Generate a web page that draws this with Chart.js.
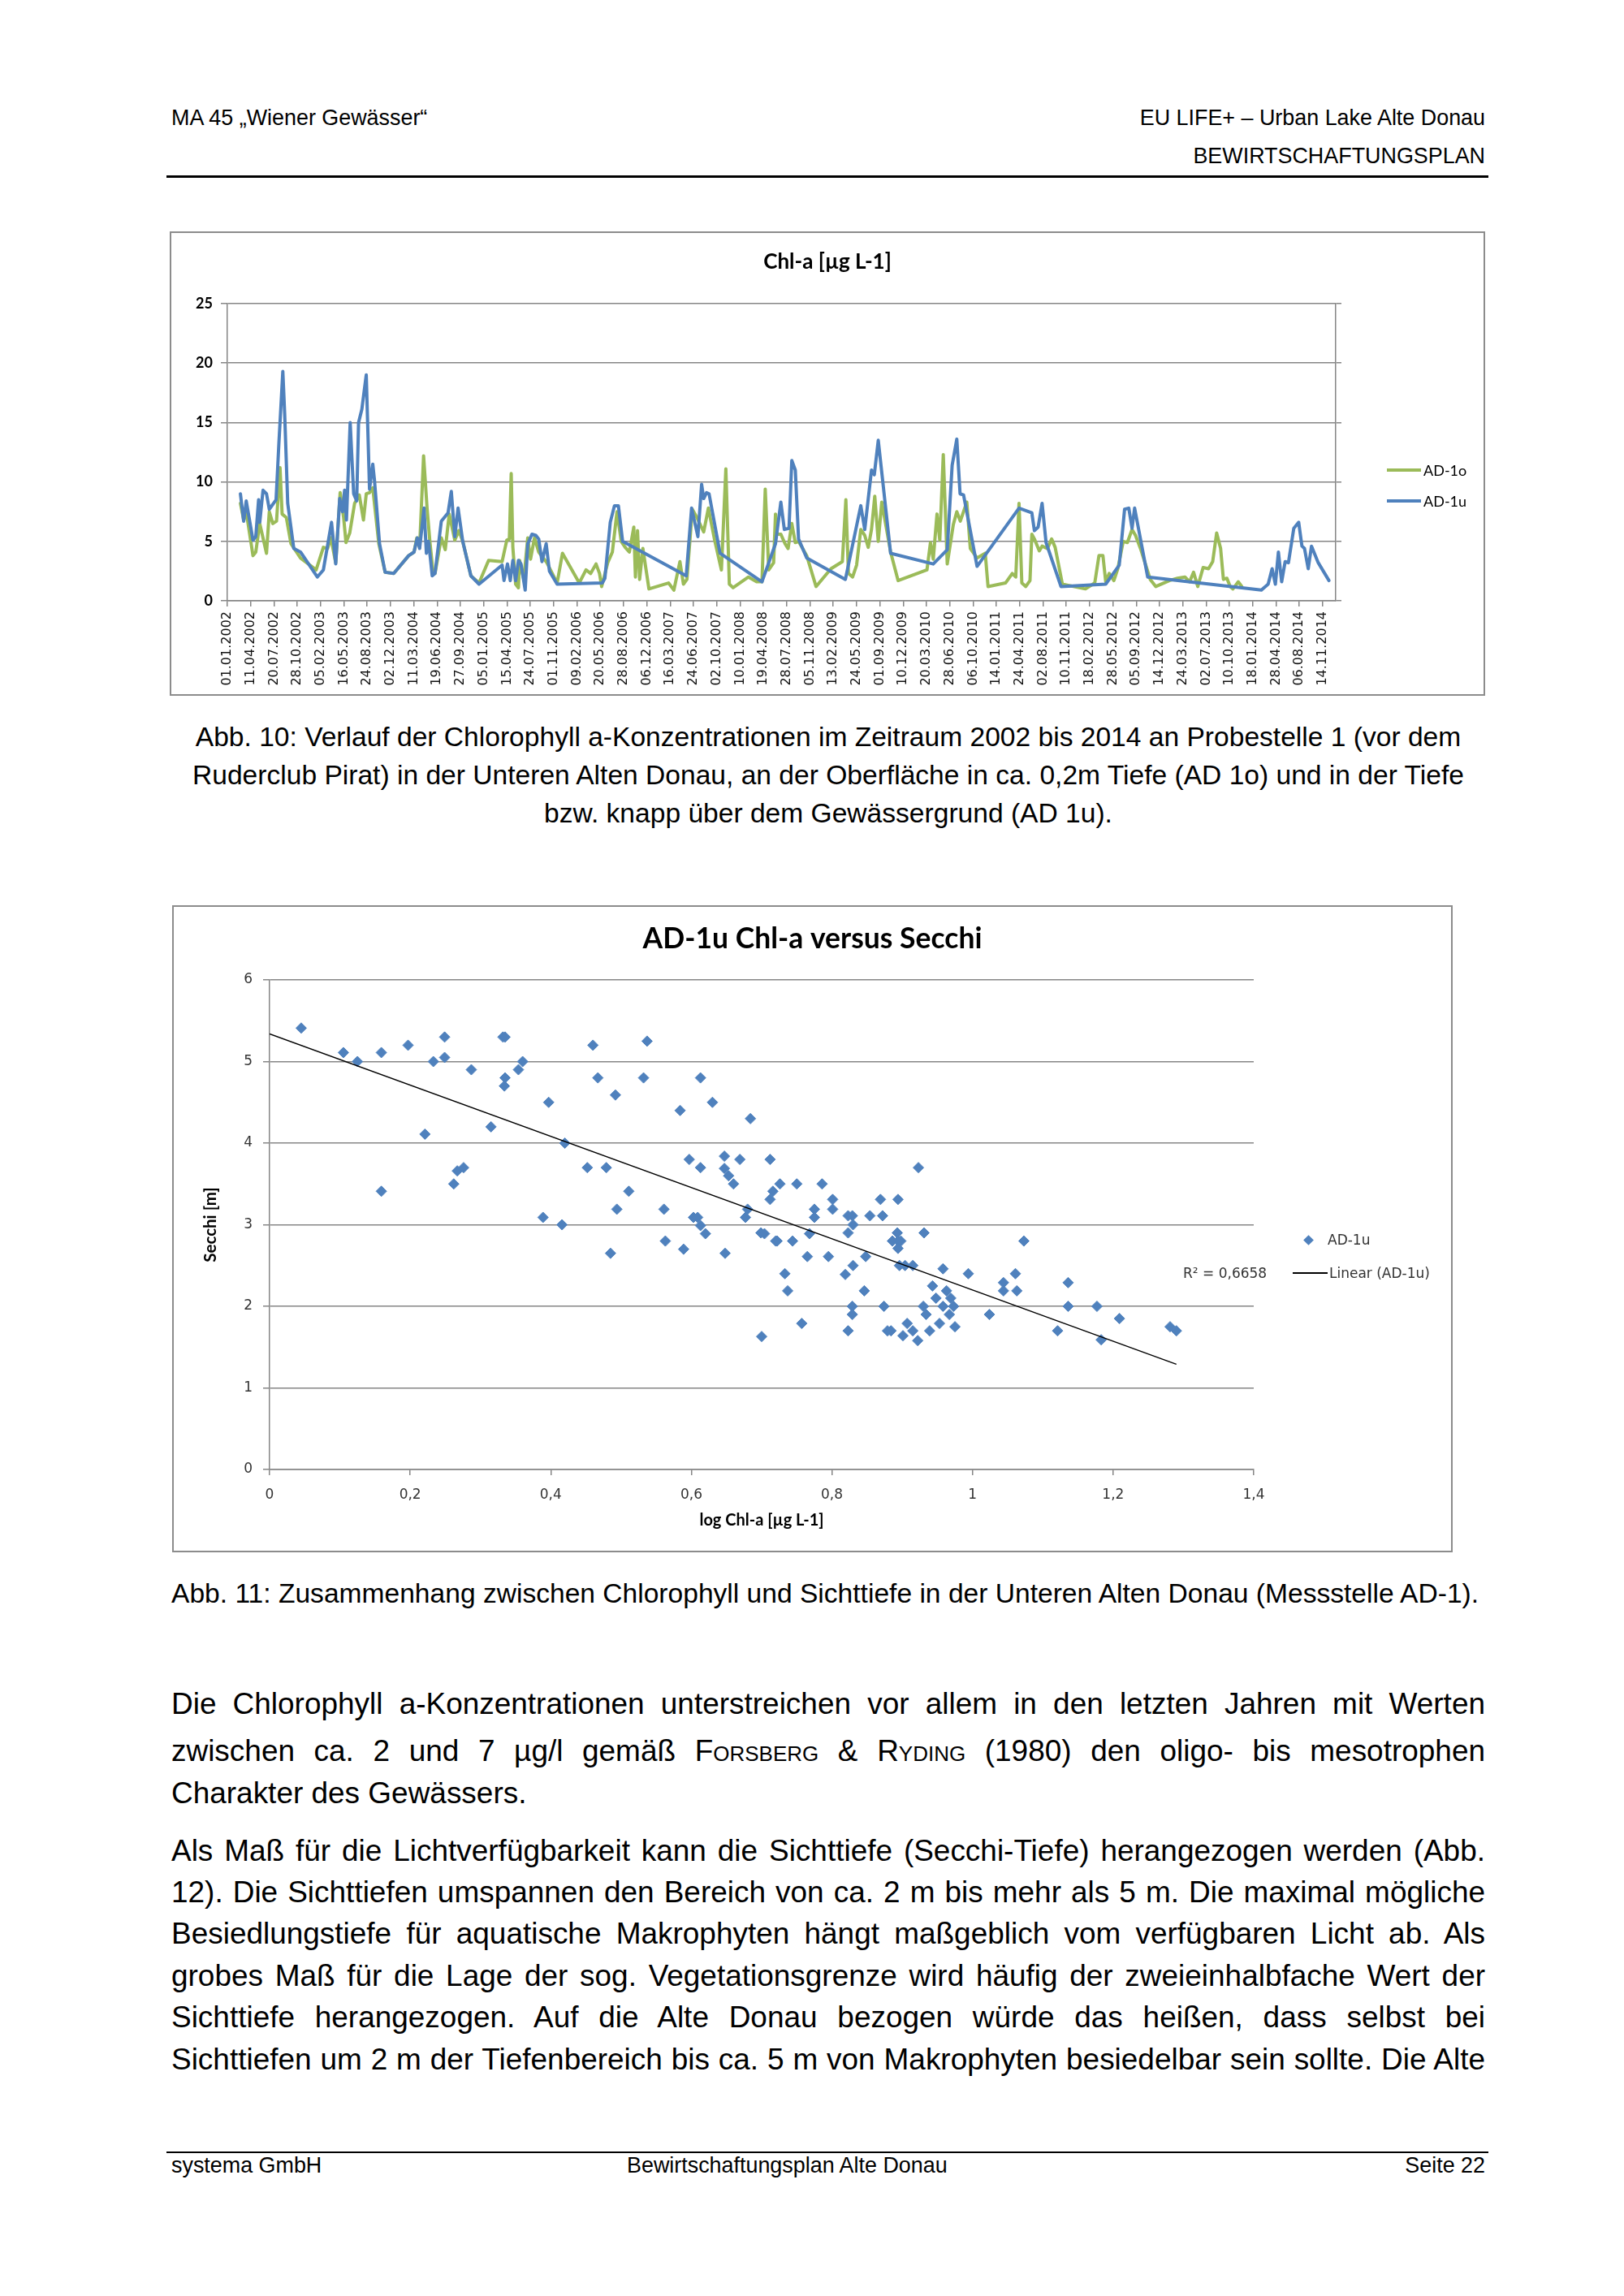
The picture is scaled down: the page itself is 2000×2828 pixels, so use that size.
<!DOCTYPE html>
<html><head><meta charset="utf-8">
<script src="https://cdn.jsdelivr.net/npm/chart.js@4.4.1/dist/chart.umd.min.js"></script>
<style>
html,body{margin:0;padding:0;background:#fff;}
body{width:2000px;height:2828px;position:relative;overflow:hidden;font-family:"Liberation Sans",Arial,sans-serif;color:#000;}
.t{position:absolute;white-space:nowrap;line-height:1;}
.h{font-size:26.9px;}
.cap{font-size:33.6px;}
.b{font-size:36.96px;}
.j{display:inline-block;}
.box{position:absolute;box-sizing:border-box;border:2px solid #8c8c8c;background:#fff;}
.box canvas{display:block;}
.lg{position:absolute;white-space:nowrap;line-height:1;}
</style></head><body>

<div class="t h" style="left:211px;top:132px;">MA 45 „Wiener Gewässer“</div>
<div class="t h" style="right:171px;top:132px;">EU LIFE+ – Urban Lake Alte Donau</div>
<div class="t h" style="right:171px;top:178.5px;">BEWIRTSCHAFTUNGSPLAN</div>
<div style="position:absolute;left:205px;top:216px;width:1628px;height:3px;background:#000;"></div>

<div class="box" style="left:209px;top:285px;width:1620px;height:572px;">
  <canvas id="c1" width="1616" height="568" style="width:1616px;height:568px;"></canvas>
</div>
<div style="position:absolute;left:1708px;top:577px;width:42px;height:4px;background:#9BBB59;"></div>
<div class="lg" style="left:1753px;top:569.5px;font-family:Lato;font-size:18px;">AD-1o</div>
<div style="position:absolute;left:1708px;top:615px;width:42px;height:4px;background:#4F81BD;"></div>
<div class="lg" style="left:1753px;top:607.5px;font-family:Lato;font-size:18px;">AD-1u</div>

<div class="t cap" style="left:211px;width:1618px;text-align:center;top:891px;">Abb. 10: Verlauf der Chlorophyll a-Konzentrationen im Zeitraum 2002 bis 2014 an Probestelle 1 (vor dem</div>
<div class="t cap" style="left:211px;width:1618px;text-align:center;top:938px;">Ruderclub Pirat) in der Unteren Alten Donau, an der Oberfläche in ca. 0,2m Tiefe (AD 1o) und in der Tiefe</div>
<div class="t cap" style="left:211px;width:1618px;text-align:center;top:985px;">bzw. knapp über dem Gewässergrund (AD 1u).</div>

<div class="box" style="left:212px;top:1115px;width:1577px;height:797px;">
  <canvas id="c2" width="1573" height="793" style="width:1573px;height:793px;"></canvas>
</div>
<div style="position:absolute;left:1606.5px;top:1522.5px;width:9px;height:9px;background:#4F81BD;transform:rotate(45deg);"></div>
<div class="lg" style="left:1635px;top:1519px;font-family:'DejaVu Sans';font-size:17px;color:#333;">AD-1u</div>
<div style="position:absolute;left:1592px;top:1567px;width:43px;height:2px;background:#000;"></div>
<div class="lg" style="left:1637px;top:1560px;font-family:'DejaVu Sans';font-size:17px;color:#333;">Linear (AD-1u)</div>
<div class="lg" id="r2" style="left:1457px;top:1560px;font-family:'DejaVu Sans';font-size:17px;color:#333;"></div>

<div class="t cap" style="left:211px;top:1946px;">Abb. 11: Zusammenhang zwischen Chlorophyll und Sichttiefe in der Unteren Alten Donau (Messstelle AD-1).</div>

<div class="t b j" style="left:211px;top:2080.5px;">Die Chlorophyll a-Konzentrationen unterstreichen vor allem in den letzten Jahren mit Werten</div>
<div class="t b j" style="left:211px;top:2138.5px;">zwischen ca. 2 und 7 µg/l gemäß <span style="font-variant:small-caps">Forsberg</span> &amp; <span style="font-variant:small-caps">Ryding</span> (1980) den oligo- bis mesotrophen</div>
<div class="t b" style="left:211px;top:2190.5px;">Charakter des Gewässers.</div>

<div class="t b j" style="left:211px;top:2261.5px;">Als Maß für die Lichtverfügbarkeit kann die Sichttiefe (Secchi-Tiefe) herangezogen werden (Abb.</div>
<div class="t b j" style="left:211px;top:2312.5px;">12). Die Sichttiefen umspannen den Bereich von ca. 2 m bis mehr als 5 m. Die maximal mögliche</div>
<div class="t b j" style="left:211px;top:2363.5px;">Besiedlungstiefe für aquatische Makrophyten hängt maßgeblich vom verfügbaren Licht ab. Als</div>
<div class="t b j" style="left:211px;top:2415.5px;">grobes Maß für die Lage der sog. Vegetationsgrenze wird häufig der zweieinhalbfache Wert der</div>
<div class="t b j" style="left:211px;top:2466.5px;">Sichttiefe herangezogen. Auf die Alte Donau bezogen würde das heißen, dass selbst bei</div>
<div class="t b j" style="left:211px;top:2518.5px;">Sichttiefen um 2 m der Tiefenbereich bis ca. 5 m von Makrophyten besiedelbar sein sollte. Die Alte</div>

<div style="position:absolute;left:205px;top:2650px;width:1628px;height:1.5px;background:#000;"></div>
<div class="t h" style="left:211px;top:2654px;">systema GmbH</div>
<div class="t h" style="left:772px;top:2654px;">Bewirtschaftungsplan Alte Donau</div>
<div class="t h" style="right:171px;top:2654px;">Seite 22</div>

<script>
// ---------- Chart 1 data: Chl-a [µg L-1], x = days since 01.01.2002 ----------
const dateLabels = ['01.01.2002','11.04.2002','20.07.2002','28.10.2002','05.02.2003','16.05.2003','24.08.2003','02.12.2003','11.03.2004','19.06.2004','27.09.2004','05.01.2005','15.04.2005','24.07.2005','01.11.2005','09.02.2006','20.05.2006','28.08.2006','06.12.2006','16.03.2007','24.06.2007','02.10.2007','10.01.2008','19.04.2008','28.07.2008','05.11.2008','13.02.2009','24.05.2009','01.09.2009','10.12.2009','20.03.2010','28.06.2010','06.10.2010','14.01.2011','24.04.2011','02.08.2011','10.11.2011','18.02.2012','28.05.2012','05.09.2012','14.12.2012','24.03.2013','02.07.2013','10.10.2013','18.01.2014','28.04.2014','06.08.2014','14.11.2014'];

const ad1oDays = [56,70,81,110,122,139,168,180,195,211,226,235,253,273,314,381,412,430,444,465,484,499,509,525,546,566,584,596,610,624,650,677,714,778,801,813,825,842,857,869,883,891,918,935,952,976,993,1010,1045,1080,1121,1179,1199,1210,1218,1225,1237,1249,1254,1272,1289,1301,1318,1336,1371,1415,1438,1510,1539,1559,1582,1597,1606,1632,1652,1672,1690,1707,1725,1744,1751,1760,1769,1783,1809,1893,1916,1942,1957,1972,1995,2015,2044,2064,2091,2120,2139,2154,2170,2236,2271,2294,2308,2323,2344,2352,2358,2375,2393,2406,2422,2437,2451,2486,2526,2590,2639,2654,2665,2683,2700,2718,2735,2750,2764,2778,2793,2808,2846,2878,3002,3017,3029,3045,3057,3072,3089,3115,3130,3145,3173,3188,3217,3252,3264,3339,3368,3383,3397,3409,3426,3444,3452,3463,3484,3496,3519,3537,3552,3583,3682,3722,3740,3757,3769,3784,3804,3821,3844,3862,3882,3897,3920,3960,3984,4042,4077,4109,4129,4146,4164,4187,4210,4228,4245,4262,4274,4289,4303,4315,4338,4353];
const ad1oVals = [8.2,6.8,7.5,3.8,4.1,6.5,4.0,7.5,6.5,6.7,11.2,7.3,7.0,4.8,3.6,2.6,4.5,4.4,5.3,3.2,9.1,7.0,4.9,5.7,8.2,8.9,6.8,9.0,9.1,9.5,4.8,2.4,2.3,3.8,4.1,5.3,4.5,12.2,7.8,5.0,2.3,2.3,5.3,4.3,7.3,5.1,5.9,5.0,2.1,1.5,3.4,3.3,5.1,5.2,10.7,4.5,1.4,1.1,3.4,1.8,5.3,3.5,5.3,4.1,3.2,1.5,4.0,1.5,2.6,2.3,3.1,2.3,1.2,3.2,4.1,7.5,5.0,4.5,4.1,6.2,2.0,5.9,1.8,4.4,1.0,1.5,0.9,3.3,1.4,1.8,7.7,7.0,5.8,7.8,5.1,2.6,11.1,1.4,1.1,2.0,1.6,1.6,9.4,2.6,3.2,7.3,5.6,5.6,4.8,4.4,6.5,4.9,5.0,3.8,1.2,2.7,3.3,8.5,2.3,2.0,3.0,6.0,5.5,4.5,6.0,8.8,5.0,8.3,4.1,1.7,2.6,4.9,3.5,7.3,5.1,12.3,3.1,6.4,7.5,6.7,8.3,4.4,3.6,4.0,1.2,1.5,2.3,2.0,8.2,1.5,1.2,1.7,5.6,5.2,4.2,4.6,4.4,5.2,4.5,1.4,1.0,1.5,3.8,3.8,1.6,2.3,1.7,2.7,5.0,4.9,6.0,5.5,4.3,1.8,1.2,1.7,1.9,2.0,1.6,2.4,1.2,2.8,2.7,3.3,5.7,4.4,1.8,1.9,1.2,1.0,1.6,1.2];

const ad1uDays = [56,70,81,110,122,134,139,153,168,180,209,221,238,246,259,285,314,386,412,447,465,482,494,503,511,527,542,555,563,577,596,610,624,631,653,677,714,778,801,815,825,844,854,863,871,879,891,918,947,961,976,990,1010,1045,1080,1179,1187,1202,1214,1225,1237,1249,1260,1278,1289,1307,1324,1336,1350,1368,1382,1415,1609,1620,1643,1661,1678,1696,1969,1992,2019,2035,2044,2056,2067,2114,2294,2352,2375,2390,2410,2422,2437,2451,2486,2652,2718,2735,2764,2776,2793,2846,3029,3089,3110,3130,3144,3159,3217,3397,3452,3463,3479,3496,3513,3577,3769,3827,3850,3868,3882,3893,3949,4437,4466,4483,4497,4510,4524,4539,4553,4576,4597,4611,4622,4638,4652,4681,4727];
const ad1uVals = [9.0,6.7,8.4,5.1,5.4,8.5,6.6,9.3,9.0,7.7,8.5,13.2,19.3,15.7,8.2,4.4,4.1,2.0,2.6,6.6,3.1,8.6,7.5,9.3,6.8,15.0,9.0,8.4,15.0,16.1,19.0,9.4,11.5,10.2,4.8,2.4,2.3,3.8,4.1,5.3,4.4,7.8,4.0,5.0,3.6,2.1,2.3,6.7,7.4,9.2,5.4,7.8,5.0,2.1,1.4,3.0,1.7,3.1,1.7,3.4,1.7,3.4,3.1,0.9,4.8,5.6,5.5,5.2,3.3,4.8,2.5,1.4,1.5,1.9,6.6,8.0,8.0,5.0,2.1,7.8,5.4,9.8,8.6,9.1,9.0,4.0,1.6,4.8,8.3,6.0,6.1,11.8,11.0,5.2,3.6,1.8,8.0,6.0,11.0,10.6,13.5,4.0,3.1,4.3,11.4,13.6,9.0,8.9,2.9,7.8,7.4,5.9,6.2,8.2,4.9,1.2,1.4,3.0,7.7,7.8,6.1,7.8,2.0,0.9,1.4,2.7,1.4,4.1,1.6,3.3,3.2,6.1,6.6,4.6,4.4,2.7,4.6,3.2,1.7];

// ---------- Chart 2 data: log Chl-a vs Secchi depth ----------
const logChl = [0.045,0.105,0.125,0.159,0.159,0.197,0.221,0.233,0.249,0.249,0.262,0.267,0.276,0.287,0.315,0.332,0.335,0.335,0.334,0.354,0.360,0.389,0.397,0.416,0.420,0.452,0.460,0.467,0.479,0.485,0.492,0.494,0.511,0.532,0.537,0.561,0.563,0.584,0.589,0.597,0.603,0.609,0.613,0.613,0.613,0.620,0.630,0.647,0.647,0.648,0.653,0.660,0.669,0.677,0.680,0.684,0.700,0.699,0.704,0.712,0.712,0.716,0.726,0.720,0.722,0.733,0.737,0.744,0.750,0.757,0.765,0.768,0.775,0.775,0.786,0.801,0.801,0.795,0.819,0.823,0.829,0.830,0.823,0.830,0.829,0.829,0.823,0.846,0.848,0.854,0.869,0.872,0.874,0.879,0.884,0.894,0.893,0.894,0.894,0.886,0.898,0.896,0.904,0.907,0.901,0.915,0.915,0.922,0.923,0.931,0.930,0.934,0.939,0.943,0.948,0.953,0.958,0.958,0.963,0.967,0.969,0.973,0.975,0.994,1.024,1.044,1.044,1.061,1.063,1.073,1.121,1.136,1.136,1.177,1.183,1.209,1.281,1.290];
const secchi = [5.41,5.11,5.00,5.11,3.41,5.20,4.11,5.00,5.30,5.05,3.50,3.66,3.70,4.90,4.20,5.30,5.30,4.80,4.70,4.90,5.00,3.09,4.50,3.00,4.00,3.70,5.20,4.80,3.70,2.65,4.59,3.19,3.41,4.80,5.25,3.19,2.80,4.40,2.70,3.80,3.09,3.09,4.80,3.70,2.99,2.89,4.50,3.84,3.69,2.65,3.60,3.50,3.80,3.09,3.19,4.30,1.63,2.90,2.89,3.80,3.31,3.41,3.50,2.80,2.80,2.40,2.19,2.80,3.50,1.79,2.61,2.89,3.19,3.09,3.50,3.31,3.19,2.61,2.39,3.11,3.11,3.00,2.90,2.50,2.00,1.90,1.70,2.19,2.61,3.11,3.31,3.11,2.00,1.70,1.70,3.31,2.90,2.80,2.71,2.80,2.80,2.50,2.50,1.79,1.64,2.50,1.70,1.58,3.70,2.90,2.00,1.90,1.70,2.25,2.10,1.79,2.46,2.00,2.19,1.90,2.10,2.00,1.75,2.40,1.90,2.29,2.19,2.40,2.19,2.80,1.70,2.29,2.00,2.00,1.59,1.85,1.75,1.70];
const trendX = [0, 1.29];
const trendY = [5.34, 1.29];
const xTickLabels2 = ['0','0,2','0,4','0,6','0,8','1','1,2','1,4'];
const r2Label = 'R² = 0,6658';

document.getElementById('r2').textContent = r2Label;

const GRID = '#868686';

new Chart(document.getElementById('c1'), {
  type: 'line',
  data: { datasets: [
    { label: 'AD-1o', data: ad1oDays.map((d, i) => ({x: d, y: ad1oVals[i]})), borderColor: '#9BBB59', backgroundColor: '#9BBB59', borderWidth: 4, pointRadius: 0, tension: 0, order: 2, borderJoinStyle: 'round', borderCapStyle: 'round' },
    { label: 'AD-1u', data: ad1uDays.map((d, i) => ({x: d, y: ad1uVals[i]})), borderColor: '#4F81BD', backgroundColor: '#4F81BD', borderWidth: 4, pointRadius: 0, tension: 0, order: 1, borderJoinStyle: 'round', borderCapStyle: 'round' }
  ]},
  options: {
    responsive: false, animation: false, devicePixelRatio: 1,
    layout: { padding: 0 },
    plugins: {
      legend: { display: false }, tooltip: { enabled: false },
      title: { display: true, text: 'Chl-a [µg L-1]', color: '#000', font: { family: 'Lato', weight: 'bold', size: 26, lineHeight: 1.2 }, padding: { top: 20, bottom: 35.8 } }
    },
    scales: {
      x: { type: 'linear', min: 0, max: 4756, afterFit: s => { s.height = 115; },
        grid: { drawOnChartArea: false, drawTicks: true, tickLength: 7, color: GRID, lineWidth: 1.5 },
        border: { display: true, color: GRID, width: 1.5 },
        ticks: { stepSize: 100, includeBounds: false, autoSkip: false, minRotation: 90, maxRotation: 90, padding: 6, color: '#111',
          font: { family: 'DejaVu Sans', size: 16 }, callback: v => dateLabels[Math.round(v / 100)] ?? '' } },
      y: { min: 0, max: 25, afterFit: s => { s.width = 69; },
        ticks: { stepSize: 5, padding: 10, color: '#000', font: { family: 'Lato', weight: 'bold', size: 18 } },
        grid: { color: GRID, lineWidth: 1.5, tickLength: 8 }, border: { color: GRID, width: 1.5 } },
      y2: { position: 'right', min: 0, max: 25, afterFit: s => { s.width = 182; },
        ticks: { stepSize: 5, display: false },
        grid: { drawOnChartArea: false, color: GRID, lineWidth: 1.5, tickLength: 7 }, border: { color: GRID, width: 1.5 } }
    }
  }
});

new Chart(document.getElementById('c2'), {
  type: 'scatter',
  data: { datasets: [
    { type: 'line', label: 'Linear (AD-1u)', data: trendX.map((x, i) => ({x: x, y: trendY[i]})), borderColor: '#000', borderWidth: 1.5, pointRadius: 0, order: 0 },
    { label: 'AD-1u', data: logChl.map((x, i) => ({x: x, y: secchi[i]})), pointStyle: 'rectRot', pointRadius: 6.5, backgroundColor: '#4F81BD', borderColor: '#4F81BD', borderWidth: 1, order: 1 }
  ]},
  options: {
    responsive: false, animation: false, devicePixelRatio: 1,
    layout: { padding: 0 },
    plugins: {
      legend: { display: false }, tooltip: { enabled: false },
      title: { display: true, text: 'AD-1u Chl-a versus Secchi', color: '#000', font: { family: 'Lato', weight: 'bold', size: 35.5, lineHeight: 1.2 }, padding: { top: 18.7, bottom: 28.7 } }
    },
    scales: {
      x: { type: 'linear', min: 0, max: 1.4, afterFit: s => { s.height = 100; },
        grid: { drawOnChartArea: false, drawTicks: true, tickLength: 7, color: GRID, lineWidth: 1.5 },
        border: { display: true, color: GRID, width: 1.5 },
        ticks: { stepSize: 0.2, padding: 14, color: '#333', font: { family: 'DejaVu Sans', size: 17 }, callback: v => xTickLabels2[Math.round(v / 0.2)] ?? '' },
        title: { display: true, text: 'log Chl-a [µg L-1]', color: '#000', font: { family: 'Lato', weight: 'bold', size: 20, lineHeight: 1.2 }, padding: { top: 0, bottom: 25 } } },
      y: { min: 0, max: 6, afterFit: s => { s.width = 118; },
        ticks: { stepSize: 1, padding: 13, color: '#333', font: { family: 'DejaVu Sans', size: 17 } },
        grid: { color: GRID, lineWidth: 1.5, tickLength: 8 }, border: { color: GRID, width: 1.5 },
        title: { display: true, text: 'Secchi [m]', color: '#000', font: { family: 'Lato', weight: 'bold', size: 20.5, lineHeight: 1.2 }, padding: { top: 33.2, bottom: 0 } } },
      y2: { position: 'right', display: true, afterFit: s => { s.width = 243; },
        grid: { display: false }, border: { display: false }, ticks: { display: false } }
    }
  }
});

// justify body lines to the 1618px text column
document.querySelectorAll('.j').forEach(el => {
  const w = el.getBoundingClientRect().width;
  const n = (el.textContent.match(/ /g) || []).length;
  if (n) el.style.wordSpacing = ((1618 - w) / n) + 'px';
});
</script>
</body></html>
